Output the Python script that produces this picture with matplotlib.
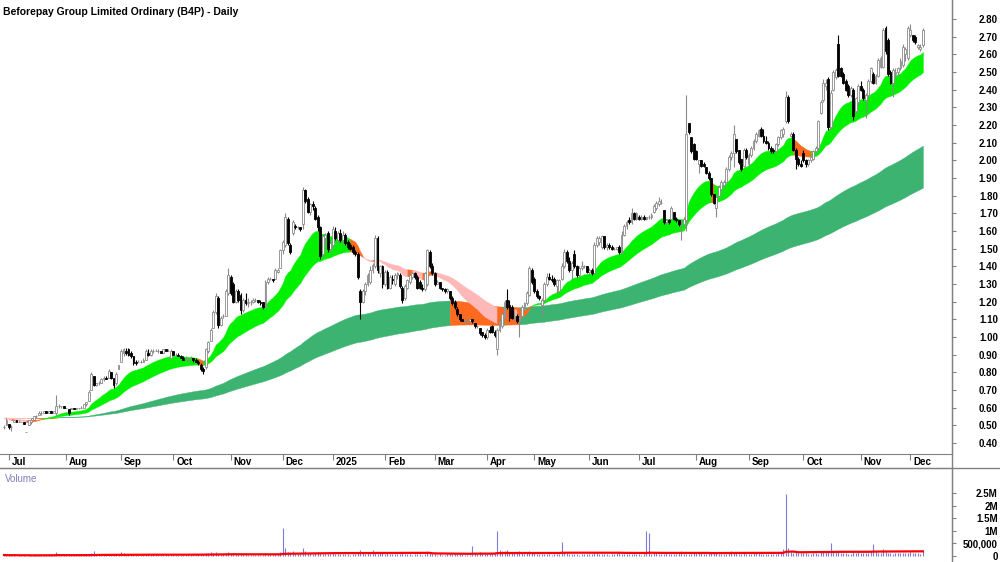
import numpy as np
import pandas as pd
import matplotlib
matplotlib.use("Agg")
import matplotlib.pyplot as plt
from matplotlib.lines import Line2D
from matplotlib.transforms import blended_transform_factory

plt.rcParams['font.family'] = ['Liberation Sans', 'DejaVu Sans']

# daily bars in cents: (open, high, low, close), one list per month
jun24 = [(49,50,48,49),(50,54,50,53)]
jul24 = [(51,51,48,49),(49,50,47,49),(52,53,52,53),(53,53,52,52),(52,53,52,52),
         (52,52,52,52),(52,52,51,51),(46,46,46,46),(50,53,50,53),(52,54,51,53),
         (53,55,53,55),(55,56,54,55),(56,58,56,57),(57,58,56,57),(57,58,57,58),
         (58,58,57,57),(57,58,57,58),(58,58,57,57),(57,58,57,58),(57,67,56,61),
         (61,62,60,61),(61,61,60,61),(61,61,60,60)]
aug24 = [(60,60,60,60),(59,59,56,57),(59,60,59,60),(60,60,59,59),(59,60,59,60),
         (60,60,59,60),(60,61,60,60),(60,62,60,62),(62,63,61,63),(64,70,64,69),
         (70,80,70,79),(78,78,72,73),(73,74,72,74),(74,75,73,74),(74,77,74,76),
         (76,78,75,77),(77,78,76,76),(77,82,77,81),(80,80,76,77),(77,77,71,73),
         (74,80,73,79),(82,84,82,84)]
sep24 = [(86,93,86,92),(91,94,89,93),(92,94,90,91),(93,94,89,90),(91,92,88,89),
         (89,89,84,85),(86,87,84,85),(86,87,86,86),(86,87,85,86),(86,88,86,87),
         (87,93,87,92),(91,93,89,90),(90,93,89,92),(92,93,91,92),(92,93,92,92),
         (92,93,91,92),(92,92,91,91),(91,93,91,93),(93,93,92,92),(92,93,92,92),
         (88,93,88,92)]
oct24 = [(92,92,90,90),(90,91,89,90),(90,91,89,89),(89,90,88,88),(88,89,87,87),
         (88,89,87,88),(87,88,86,87),(88,89,87,88),(88,88,86,87),(87,88,86,86),
         (86,87,84,85),(84,85,81,82),(82,83,79,81),(83,94,82,93),(92,98,91,97),
         (98,105,98,104),(105,115,105,114),(114,125,113,123),(122,123,105,107),(107,112,106,111),
         (112,113,111,112),(112,127,112,126),(125,139,124,135)]
nov24 = [(134,135,124,125),(130,131,119,120),(120,127,119,126),(126,127,120,121),(124,125,113,115),
         (115,122,114,121),(121,125,118,119),(119,122,117,120),(120,121,118,120),(120,122,119,121),
         (121,122,120,121),(121,121,119,120),(120,121,118,119),(120,120,116,117),(117,132,117,131),
         (131,134,130,133),(133,134,132,133),(133,133,131,132),(133,139,133,138),(137,139,136,138),
         (139,150,139,149)]
dec24 = [(149,155,147,154),(152,170,151,168),(167,168,152,153),(152,153,147,148),(159,166,158,165),
         (163,164,161,162),(162,163,161,162),(162,162,160,161),(164,185,161,183),(183,184,176,177),
         (178,179,170,171),(171,176,169,175),(175,177,172,174),(173,174,166,167),(168,169,160,162),
         (162,163,144,146),(147,158,146,157),(156,159,152,158),(159,160,148,150),(150,155,148,153)]
jan25 = [(152,163,150,161),(160,162,155,156),(155,160,153,159),(159,161,154,155),(155,160,153,158),
         (158,159,152,153),(154,155,150,151),(152,153,149,150),(151,152,147,148),(148,149,146,147),
         (147,148,133,134),(126,127,110,120),(120,127,119,126),(126,131,124,130),(130,136,129,135),
         (131,140,130,138),(138,142,136,141),(140,158,139,156),(156,157,136,138),(136,141,134,140),
         (140,141,128,130)]
feb25 = [(130,138,129,137),(137,138,127,128),(128,135,127,134),(133,135,130,132),(130,136,129,135),
         (135,137,133,136),(135,136,128,129),(128,129,119,121),(122,130,121,129),(128,133,127,132),
         (131,136,130,135),(134,137,133,136),(136,137,133,134),(134,135,127,128),(131,132,127,128),
         (128,130,126,127),(127,137,126,136),(130,150,129,149),(148,149,139,140),(140,142,135,136)]
mar25 = [(136,137,129,130),(130,132,130,131),(131,131,127,128),(128,128,126,127),(127,128,125,126),
         (126,128,125,127),(126,126,121,122),(122,123,118,119),(120,121,116,117),(116,117,112,113),
         (113,113,109,110),(110,110,109,109),(109,110,108,109),(109,110,108,109),(109,110,108,110),
         (110,110,108,109),(108,108,105,106),(106,107,105,106),(105,105,101,102),(103,103,100,101),
         (101,102,99,100)]
apr25 = [(100,105,99,104),(104,106,102,103),(106,107,102,103),(103,104,100,101),(93,105,90,104),
         (104,110,103,109),(106,114,105,113),(111,121,110,120),(121,127,116,117),(118,121,109,111),
         (117,118,110,111),(111,114,109,112),(112,113,108,109),(109,113,100,112),(112,118,111,117),
         (116,120,115,119),(119,126,118,125),(124,140,123,139),(138,139,130,131)]
may25 = [(133,134,125,126),(126,127,122,123),(123,124,121,122),(118,122,112,121),(121,131,120,130),
         (130,136,129,134),(134,136,132,133),(133,135,131,132),(133,134,129,130),(129,133,125,132),
         (126,133,125,132),(133,142,132,140),(140,150,139,148),(148,149,142,143),(143,145,137,138),
         (138,143,133,142),(147,149,139,140),(140,141,134,135),(135,140,134,139),(139,143,138,140),
         (140,141,139,140),(140,140,136,137)]
jun25 = [(137,139,135,138),(138,139,135,136),(136,154,136,152),(152,157,151,156),(154,157,152,156),
         (151,158,150,157),(157,157,150,151),(151,153,149,152),(152,153,150,151),(151,152,149,150),
         (150,151,149,150),(150,151,149,151),(151,152,147,148),(148,160,147,158),(158,164,157,163),
         (163,166,161,165),(166,168,164,165),(165,173,164,170),(170,171,166,167),(167,171,166,170)]
jul25 = [(168,169,166,167),(167,169,166,168),(168,169,166,167),(167,168,166,168),(168,169,167,168),
         (168,170,167,169),(171,175,170,174),(173,177,172,176),(175,179,174,177),(176,178,175,176),
         (172,172,164,165),(165,167,164,166),(166,167,164,165),(167,174,166,173),(171,171,166,167),
         (167,168,165,166),(166,166,163,164),(165,166,155,165),(164,168,163,167),(166,237,160,215),
         (221,221,215,216),(213,213,204,205),(209,210,200,201)]
aug25 = [(205,206,200,201),(198,200,193,200),(200,200,196,197),(198,199,196,197),(196,196,192,193),
         (193,194,189,190),(190,190,180,181),(181,181,175,176),(173,180,168,179),(180,186,179,185),
         (184,189,183,188),(186,189,185,188),(188,196,187,195),(195,203,194,202),(202,205,200,204),
         (204,220,196,215),(212,212,204,205),(206,206,198,199),(201,201,194,195),(197,207,196,206),
         (206,207,201,202)]
sep25 = [(198,204,197,203),(203,208,202,207),(207,212,206,211),(211,216,210,215),(214,218,213,217),
         (218,219,213,214),(214,218,210,211),(211,214,209,210),(210,211,206,207),(207,208,204,205),
         (206,207,204,205),(205,210,204,209),(209,214,208,213),(213,218,212,217),(215,219,213,218),
         (222,239,221,236),(236,237,221,222),(214,216,213,215),(215,216,205,206),(206,207,195,201),
         (201,202,197,198),(198,200,196,197)]
oct25 = [(204,206,199,200),(200,201,196,198),(198,201,197,200),(200,203,199,202),(201,206,200,205),
         (205,208,204,207),(207,223,206,222),(227,234,226,233),(234,246,233,244),(242,246,240,244),
         (246,247,217,219),(219,240,218,238),(240,251,239,250),(247,252,246,251),(266,271,247,248),
         (252,253,247,248),(249,250,243,244),(245,246,239,240),(242,243,236,237),(237,242,236,241),
         (240,241,223,225),(228,236,227,235),(233,243,232,242)]
nov25 = [(242,245,239,240),(240,241,234,235),(234,238,224,237),(237,246,236,245),(245,253,244,252),
         (249,250,243,244),(244,249,243,248),(248,258,247,257),(253,259,252,258),(253,275,252,274),
         (275,276,260,262),(268,269,248,249),(250,251,243,244),(244,252,236,251),(249,252,247,250),
         (250,253,248,252),(252,258,251,256),(254,266,253,264),(260,264,256,263),(258,276,257,275)]
dec25 = [(271,277,270,274),(271,271,267,268),(270,271,266,267),(264,266,263,265),(263,266,262,264),
         (265,275,264,274)]

# daily volume in thousands of shares, same months
vol_jun24 = [40, 25]
vol_jul24 = [30,20,35,15,25,20,30,10,45,30,25,40,35,20,30,25,40,30,20,150,45,30,25]
vol_aug24 = [20,40,25,20,30,25,20,35,60,70,120,180,90,60,50,70,45,40,60,80,50,70]
vol_sep24 = [150,120,80,60,70,90,50,40,30,35,70,60,40,30,25,30,35,40,30,45,50]
vol_oct24 = [40,35,30,45,30,25,40,35,30,45,60,80,70,120,110,140,130,150,90,70,60,110,140]
vol_nov24 = [120,100,80,90,110,70,60,50,45,40,35,45,40,50,120,70,60,50,80,90,160]
vol_dec24 = [1100,300,150,120,200,90,80,70,320,180,120,100,90,110,150,130,80,70,90,80]
vol_jan25 = [100,80,70,90,60,70,60,50,70,60,150,250,120,90,100,80,220,150,90,120,100]
vol_feb25 = [80,110,70,60,60,70,90,120,80,70,60,50,70,90,60,50,90,200,120,80]
vol_mar25 = [70,50,60,40,50,60,80,90,100,120,110,60,40,50,40,380,120,90,140,100,80]
vol_apr25 = [90,80,110,120,1000,250,180,200,220,150,120,110,130,200,100,90,120,200,130]
vol_may25 = [100,80,70,90,80,70,60,50,60,70,80,550,150,100,90,80,70,60,50,60,70,60]
vol_jun25 = [60,70,150,120,90,80,70,60,50,60,70,120,110,90,80,70,60,80,70,60]
vol_jul25 = [60,50,60,1000,900,70,120,100,80,70,60,110,90,80,70,90,130,180,70,60,80,90,100]
vol_aug25 = [150,120,100,90,80,110,130,150,120,90,80,70,90,120,200,130,110,90,80,100,90]
vol_sep25 = [90,80,110,120,100,90,80,70,60,80,70,90,100,150,280,2450,300,150,120,200,130,110]
vol_oct25 = [120,100,90,80,110,100,90,150,180,200,150,500,200,180,150,120,100,110,90,80,150,120,140]
vol_nov25 = [130,110,100,120,150,470,200,130,110,280,150,120,100,90,110,100,120,130,110,120]
vol_dec25 = [150,120,100,110,90,200]

asx_holidays = ['2024-12-25', '2024-12-26', '2025-01-01', '2025-01-27',
                '2025-04-18', '2025-04-21', '2025-04-25', '2025-06-09']

ema_seed = 0.545          # ribbon level at the left edge
short_fast, short_slow = 18, 40
long_fast, long_slow = 144, 233
vol_ma_len = 60

price_months = [jun24, jul24, aug24, sep24, oct24, nov24, dec24, jan25, feb25, mar25,
                apr25, may25, jun25, jul25, aug25, sep25, oct25, nov25, dec25]
vol_months = [vol_jun24, vol_jul24, vol_aug24, vol_sep24, vol_oct24, vol_nov24, vol_dec24,
              vol_jan25, vol_feb25, vol_mar25, vol_apr25, vol_may25, vol_jun25, vol_jul25,
              vol_aug25, vol_sep25, vol_oct25, vol_nov25, vol_dec25]

bars = np.array([b for m in price_months for b in m], dtype=float) / 100.0
opens, highs, lows, closes = bars.T
volume = np.array([v for m in vol_months for v in m], dtype=float) * 1000

dates = pd.bdate_range('2024-06-27', '2025-12-08')
dates = dates[~dates.isin(pd.to_datetime(asx_holidays))]
assert len(dates) == len(closes) == len(volume), (len(dates), len(closes), len(volume))
x = np.arange(len(dates))

GREEN, DARK, ORANGE, PINK = '#00f000', '#3cb371', '#ff6a1f', '#ffb8b8'


def ema(values, span):
    s = pd.Series(np.r_[ema_seed, values])
    return s.ewm(span=span, adjust=False).mean().to_numpy()[1:]


def ribbon_colours(fast, slow, up_colour, trigger):
    # up trend: up colour, orange once the close slips under the trigger line
    # down trend: pink, orange while the close is back above the fast line
    trend_up = fast >= slow
    return np.where(trend_up, np.where(closes < trigger, ORANGE, up_colour),
                    np.where(closes < fast, PINK, ORANGE))


def draw_ribbon(ax, fast, slow, colours, z):
    start = 0
    n = len(colours)
    for i in range(1, n + 1):
        if i == n or colours[i] != colours[start]:
            seg = slice(max(start - 1, 0), i)
            c = colours[start]
            ax.fill_between(x[seg], fast[seg], slow[seg], color=c, ec=c, lw=0.3, zorder=z)
            start = i


W, H = 1000, 562
fig = plt.figure(figsize=(W / 100, H / 100), dpi=100)
ax = fig.add_axes([0, 1 - 454 / H, 952 / W, 454 / H])
vax = fig.add_axes([0, 2 / H, 952 / W, (560 - 468) / H])

grey = '#808080'

lf, ls = ema(closes, long_fast), ema(closes, long_slow)
draw_ribbon(ax, lf, ls, ribbon_colours(lf, ls, DARK, lf), 1)
sf, ss = ema(closes, short_fast), ema(closes, short_slow)
draw_ribbon(ax, sf, ss, ribbon_colours(sf, ss, GREEN, ss), 2)

# candles
up = closes >= opens
lo = np.minimum(opens, closes)
hgt = np.abs(closes - opens)
ax.vlines(x[up], lows[up], highs[up], color='#8a8a8a', lw=0.8, zorder=3)
ax.vlines(x[~up], lows[~up], highs[~up], color='black', lw=0.8, zorder=3)
ax.bar(x[up], hgt[up], bottom=lo[up], width=0.75, color='white', edgecolor='#8a8a8a', lw=0.6, zorder=4)
ax.bar(x[~up], hgt[~up], bottom=lo[~up], width=0.75, color='black', edgecolor='black', lw=0.6, zorder=4)

ax.set_xlim(-1.6, 380.7)
ax.set_ylim(0.3377, 2.9075)
for s in ['top', 'left']:
    ax.spines[s].set_visible(False)
for s in ['right', 'bottom']:
    ax.spines[s].set_color(grey)

ax.yaxis.tick_right()
yt = np.round(np.arange(0.4, 2.81, 0.1), 2)
ax.set_yticks(yt)
ax.set_yticklabels([f'{v:.2f}' for v in yt])
ax.tick_params(axis='y', direction='out', length=3, color=grey, labelsize=7, pad=30)
for lab in ax.get_yticklabels():
    lab.set_fontweight('bold')
    lab.set_ha('right')

firsts = np.flatnonzero(np.r_[False, dates.month[1:] != dates.month[:-1]])
ax.set_xticks(firsts)
ax.tick_params(axis='x', direction='out', length=4, color=grey, labelbottom=False)
trans = blended_transform_factory(ax.transData, ax.transAxes)
for i in firsts:
    lab = '2025' if dates[i].month == 1 else dates[i].strftime('%b')
    ax.text(i + 1.2, -8 / 454, lab, transform=trans, ha='left', va='center',
            fontsize=7, fontweight='bold')

# volume panel
vax.vlines(x, 0, volume, color='#7b7bd8', lw=0.8)
vol_ma = pd.Series(volume).rolling(vol_ma_len, min_periods=1).mean()
vax.plot(x, vol_ma, color='#ff0000', lw=1.6)
vax.set_xlim(ax.get_xlim())
vax.set_ylim(-0.159e6, 3.49e6)
for s in ['bottom', 'left']:
    vax.spines[s].set_visible(False)
for s in ['right', 'top']:
    vax.spines[s].set_color(grey)
vax.set_xticks([])
vax.yaxis.tick_right()
vt = [0, 500000, 1000000, 1500000, 2000000, 2500000]
vax.set_yticks(vt)
vax.set_yticklabels(['0', '500,000', '1M', '1.5M', '2M', '2.5M'])
vax.tick_params(axis='y', direction='out', length=3, color=grey, labelsize=7, pad=30)
for lab in vax.get_yticklabels():
    lab.set_fontweight('bold')
    lab.set_ha('right')

# frame lines between panels
fig.add_artist(Line2D([952 / W, 952 / W], [0, 1], color=grey, lw=1))
fig.add_artist(Line2D([0, 1], [1 - 468 / H, 1 - 468 / H], color=grey, lw=1))

fig.text(3 / W, 1 - 12 / H, 'Beforepay Group Limited Ordinary (B4P) - Daily',
         ha='left', va='center', fontsize=7.5, fontweight='bold')
fig.text(5 / W, 1 - 479 / H, 'Volume', ha='left', va='center', fontsize=7,
         color='#7f7fc0')

fig.savefig('out.png', dpi=100)
